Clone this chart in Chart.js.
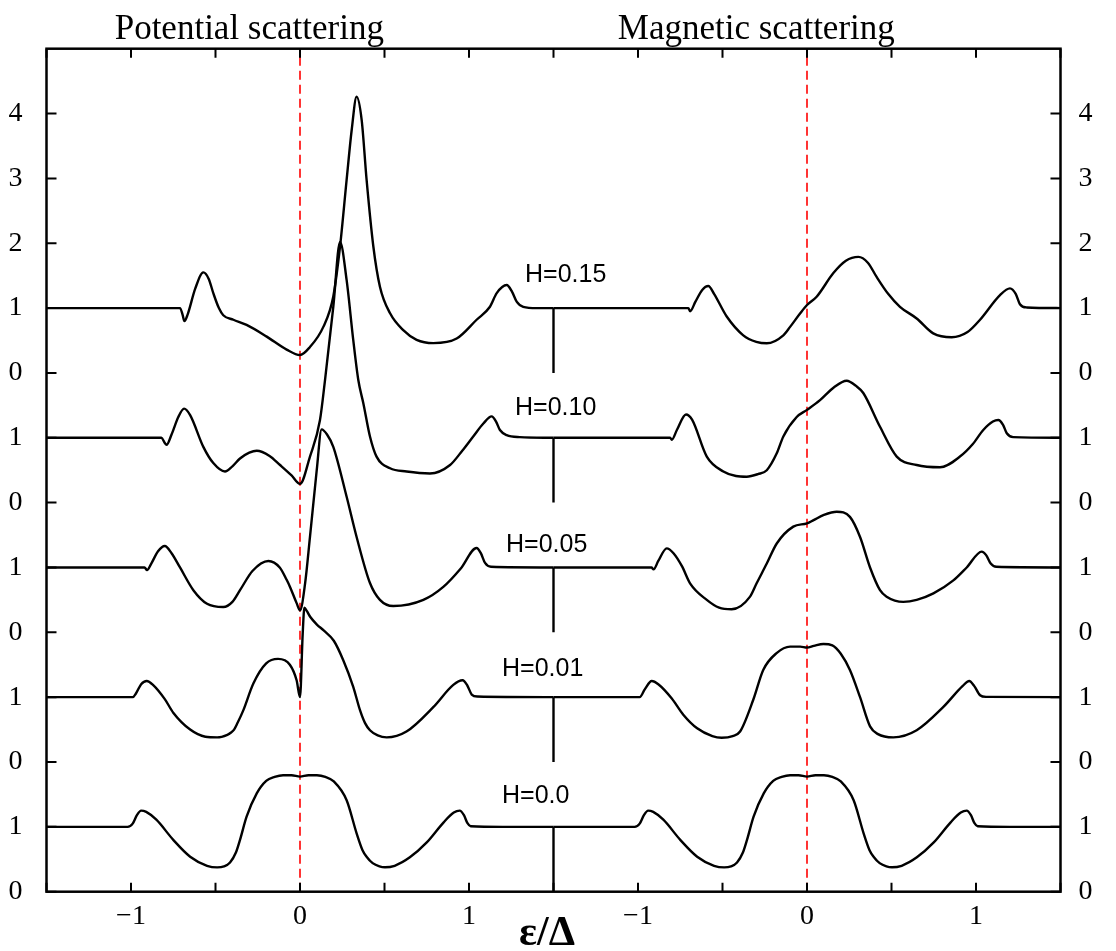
<!DOCTYPE html>
<html>
<head>
<meta charset="utf-8">
<script src="https://cdn.jsdelivr.net/npm/chart.js@4.4.1/dist/chart.umd.min.js"></script>
<style>
  html, body { margin: 0; padding: 0; background: #fff; }
  #chart { display: block; }
</style>
</head>
<body>
<canvas id="chart" width="1116" height="951"></canvas>
<script>
// curve labels and vertical offsets (each curve is shifted up by 2)
const fieldLabels = ['H=0.0', 'H=0.01', 'H=0.05', 'H=0.10', 'H=0.15'];
const offsets = [0, 2, 4, 6, 8];

// tick labels: left panel eps -1..1, right panel is shifted by 3
const xTickValues = [-1, 0, 1, 2, 3, 4];
const xTickLabels = ['\u22121', '0', '1', '\u22121', '0', '1'];
const yTickValues = [0, 1, 2, 3, 4, 5, 6, 7, 8, 9, 10, 11, 12];
const yTickLabels = ['0', '1', '0', '1', '0', '1', '0', '1', '0', '1', '2', '3', '4'];

// potential scattering, [eps, DOS]
const pot000 = [[-1.5,1.0],[-1.2,1.0],[-1.02,1.0],[-0.99,1.05],[-0.965,1.18],[-0.94,1.25],[-0.91,1.23],[-0.85,1.11],
  [-0.75,0.80],[-0.65,0.54],[-0.55,0.40],[-0.49,0.375],[-0.45,0.39],[-0.414,0.45],[-0.38,0.6],[-0.355,0.80],
  [-0.316,1.157],[-0.256,1.517],[-0.2,1.71],[-0.15,1.77],[-0.1,1.795],[-0.05,1.795],[0,1.775],[0.05,1.795],
  [0.1,1.795],[0.15,1.77],[0.2,1.70],[0.276,1.41],[0.335,0.9],[0.37,0.64],[0.394,0.54],[0.43,0.44],[0.47,0.39],
  [0.503,0.376],[0.56,0.40],[0.65,0.53],[0.75,0.76],[0.85,1.07],[0.91,1.22],[0.945,1.25],[0.97,1.18],[0.99,1.06],
  [1.01,1.01],[1.2,1.0],[1.5,1.0]];
const pot001 = [[-1.5,1.0],[-1.2,1.0],[-0.99,1.0],[-0.97,1.06],[-0.94,1.2],[-0.907,1.25],[-0.87,1.19],[-0.8,0.97],
  [-0.75,0.76],[-0.65,0.5],[-0.56,0.39],[-0.49,0.38],[-0.43,0.42],[-0.41,0.45],[-0.39,0.5],[-0.37,0.6],[-0.335,0.8],
  [-0.276,1.21],[-0.2,1.52],[-0.13,1.59],[-0.06,1.5],[-0.02,1.26],[0,1.0],[0.016,1.98],[0.026,2.38],[0.04,2.33],
  [0.06,2.24],[0.1,2.12],[0.14,2.03],[0.2,1.87],[0.256,1.57],[0.315,1.16],[0.355,0.8],[0.385,0.6],[0.414,0.49],
  [0.46,0.41],[0.513,0.38],[0.63,0.47],[0.79,0.85],[0.907,1.19],[0.962,1.26],[0.99,1.18],[1.016,1.04],[1.05,1.01],
  [1.5,1.0]];
const pot005 = [[-1.5,1.0],[-1.2,1.0],[-0.92,1.0],[-0.905,0.96],[-0.88,1.06],[-0.84,1.25],[-0.8,1.33],[-0.76,1.22],
  [-0.71,1.0],[-0.631,0.65],[-0.55,0.44],[-0.454,0.39],[-0.4,0.47],[-0.355,0.65],[-0.28,0.95],[-0.187,1.1],
  [-0.12,1.0],[-0.079,0.81],[-0.059,0.7],[-0.02,0.45],[0,0.34],[0.03,0.75],[0.059,1.47],[0.099,2.5],[0.128,3.13],
  [0.16,3.05],[0.197,2.86],[0.276,2.09],[0.335,1.47],[0.414,0.76],[0.473,0.5],[0.552,0.405],[0.73,0.5],[0.848,0.7],
  [0.95,0.98],[1.045,1.3],[1.07,1.22],[1.095,1.07],[1.13,1.01],[1.5,1.0]];
const pot010 = [[-1.5,1.0],[-1.2,1.0],[-0.82,1.0],[-0.8,0.92],[-0.79,0.89],[-0.76,1.05],[-0.72,1.32],[-0.686,1.45],
  [-0.65,1.35],[-0.572,0.86],[-0.513,0.61],[-0.444,0.48],[-0.4,0.56],[-0.355,0.68],[-0.3,0.77],[-0.256,0.8],
  [-0.18,0.72],[-0.118,0.58],[-0.05,0.42],[0,0.29],[0.059,0.71],[0.118,1.27],[0.148,1.89],[0.197,3.02],[0.237,4.02],
  [0.276,3.43],[0.315,2.51],[0.345,1.89],[0.375,1.53],[0.414,1.02],[0.453,0.71],[0.533,0.53],[0.631,0.48],
  [0.769,0.45],[0.888,0.58],[0.96,0.8],[1.025,1.02],[1.085,1.22],[1.134,1.33],[1.16,1.25],[1.183,1.12],
  [1.223,1.04],[1.3,1.01],[1.5,1.0]];
const pot015 = [[-1.5,1.0],[-1.2,1.0],[-0.71,1.0],[-0.695,0.9],[-0.684,0.8],[-0.665,0.9],[-0.62,1.3],[-0.572,1.55],
  [-0.54,1.45],[-0.513,1.23],[-0.48,1.0],[-0.454,0.89],[-0.394,0.82],[-0.316,0.74],[-0.197,0.56],[-0.079,0.36],
  [0,0.276],[0.059,0.40],[0.138,0.71],[0.197,1.18],[0.237,1.95],[0.276,2.98],[0.306,3.75],[0.335,4.26],[0.365,3.9],
  [0.394,2.98],[0.434,1.95],[0.473,1.33],[0.533,0.92],[0.611,0.66],[0.69,0.51],[0.789,0.46],[0.927,0.53],
  [1.045,0.82],[1.124,1.02],[1.164,1.23],[1.223,1.355],[1.255,1.25],[1.282,1.1],[1.321,1.02],[1.4,1.0],[1.5,1.0]];

// magnetic scattering, [eps, DOS]; at H=0 both panels coincide
const mag000 = pot000;
const mag001 = [[-1.5,1.0],[-1.2,1.0],[-0.99,1.0],[-0.96,1.12],[-0.919,1.25],[-0.88,1.2],[-0.8,0.98],[-0.732,0.73],
  [-0.65,0.52],[-0.56,0.4],[-0.505,0.375],[-0.44,0.4],[-0.396,0.47],[-0.318,0.96],[-0.259,1.42],[-0.18,1.68],
  [-0.1,1.78],[-0.04,1.78],[0,1.765],[0.04,1.79],[0.097,1.82],[0.15,1.8],[0.2,1.67],[0.254,1.42],[0.314,1.0],
  [0.373,0.55],[0.42,0.43],[0.511,0.38],[0.649,0.49],[0.807,0.85],[0.92,1.17],[0.96,1.25],[0.99,1.17],
  [1.024,1.03],[1.06,1.005],[1.5,1.0]];
const mag005 = [[-1.5,1.0],[-1.2,1.0],[-0.92,1.0],[-0.908,0.97],[-0.88,1.1],[-0.83,1.295],[-0.79,1.22],[-0.74,1.02],
  [-0.692,0.756],[-0.593,0.5],[-0.52,0.38],[-0.446,0.355],[-0.337,0.55],[-0.298,0.756],[-0.238,1.06],[-0.179,1.37],
  [-0.081,1.63],[0,1.68],[0.039,1.73],[0.1,1.81],[0.176,1.86],[0.254,1.78],[0.314,1.47],[0.373,1.0],[0.432,0.65],
  [0.471,0.55],[0.57,0.47],[0.649,0.5],[0.748,0.6],[0.866,0.8],[0.945,1.0],[1.034,1.245],[1.06,1.19],[1.087,1.06],
  [1.12,1.01],[1.5,1.0]];
const mag010 = [[-1.5,1.0],[-1.2,1.0],[-0.81,1.0],[-0.8,0.97],[-0.77,1.12],[-0.716,1.36],[-0.68,1.28],[-0.593,0.71],
  [-0.495,0.48],[-0.42,0.41],[-0.357,0.40],[-0.29,0.44],[-0.238,0.5],[-0.179,0.76],[-0.14,1.02],[-0.061,1.32],
  [0,1.43],[0.077,1.58],[0.16,1.78],[0.235,1.88],[0.29,1.8],[0.333,1.69],[0.432,1.17],[0.531,0.71],[0.649,0.58],
  [0.787,0.545],[0.905,0.71],[0.98,0.9],[1.043,1.12],[1.1,1.25],[1.132,1.275],[1.16,1.2],[1.182,1.07],[1.22,1.01],
  [1.5,1.0]];
const mag015 = [[-1.5,1.0],[-1.2,1.0],[-0.702,1.0],[-0.692,0.95],[-0.66,1.1],[-0.62,1.28],[-0.584,1.34],[-0.55,1.22],
  [-0.475,0.87],[-0.377,0.58],[-0.3,0.48],[-0.238,0.457],[-0.14,0.58],[-0.1,0.71],[-0.04,0.92],[0,1.047],
  [0.057,1.175],[0.156,1.54],[0.23,1.73],[0.304,1.79],[0.36,1.7],[0.412,1.48],[0.48,1.22],[0.55,1.02],[0.649,0.84],
  [0.747,0.61],[0.856,0.55],[0.95,0.63],[1.024,0.82],[1.142,1.2],[1.201,1.304],[1.235,1.22],[1.26,1.06],[1.3,1.01],
  [1.5,1.0]];

const potCurves = [pot000, pot001, pot005, pot010, pot015];
const magCurves = [mag000, mag001, mag005, mag010, mag015];
const panelShift = 3;
const yMax = 13;

const serif = '"Liberation Serif", "Times New Roman", serif';
const sans = '"Liberation Sans", Arial, sans-serif';

function curve(points) {
    return {
        data: points,
        showLine: true,
        borderColor: '#000',
        borderWidth: 2.4,
        pointRadius: 0,
        fill: false,
        cubicInterpolationMode: 'monotone',
    };
}

const datasets = [];
potCurves.forEach((c, i) => {
    datasets.push(curve(c.map(p => ({ x: p[0], y: p[1] + offsets[i] }))));
});
magCurves.forEach((c, i) => {
    datasets.push(curve(c.map(p => ({ x: p[0] + panelShift, y: p[1] + offsets[i] }))));
});
// short drops at the panel joint
offsets.forEach(o => {
    datasets.push({
        data: [{ x: 1.5, y: o + 1 }, { x: 1.5, y: o }],
        showLine: true, borderColor: '#000', borderWidth: 2.4, pointRadius: 0, tension: 0,
    });
});
// red dashed eps = 0 lines
[0, panelShift].forEach(x0 => {
    datasets.push({
        data: [{ x: x0, y: 0 }, { x: x0, y: yMax }],
        showLine: true, borderColor: '#ff0000', borderWidth: 1.6, borderDash: [9, 5],
        pointRadius: 0, tension: 0,
    });
});

const decor = {
    id: 'decor',
    afterDraw(chart) {
        const { ctx, chartArea: a, scales } = chart;
        const xs = scales.x, ys = scales.y;
        ctx.save();
        ctx.strokeStyle = '#000';

        // inward ticks
        ctx.lineWidth = 2;
        ctx.beginPath();
        for (let v = -1.5; v <= 4.5001; v += 0.5) {
            const px = xs.getPixelForValue(v);
            ctx.moveTo(px, a.bottom); ctx.lineTo(px, a.bottom - 9);
            ctx.moveTo(px, a.top); ctx.lineTo(px, a.top + 9);
        }
        yTickValues.forEach(v => {
            const py = ys.getPixelForValue(v);
            ctx.moveTo(a.left, py); ctx.lineTo(a.left + 10, py);
            ctx.moveTo(a.right, py); ctx.lineTo(a.right - 10, py);
        });
        ctx.stroke();

        // frame
        ctx.lineWidth = 2.5;
        ctx.strokeRect(a.left, a.top, a.right - a.left, a.bottom - a.top);

        ctx.fillStyle = '#000';
        ctx.textBaseline = 'alphabetic';

        // panel titles
        ctx.font = '35px ' + serif;
        ctx.textAlign = 'center';
        ctx.fillText('Potential scattering', xs.getPixelForValue(-0.3), 39);
        ctx.fillText('Magnetic scattering', xs.getPixelForValue(-0.3 + panelShift), 39);

        // curve labels
        const labelPos = [[502, 803], [502, 676], [506, 552], [515, 415], [525, 282]];
        ctx.font = '25px ' + sans;
        ctx.textAlign = 'left';
        fieldLabels.forEach((t, i) => ctx.fillText(t, labelPos[i][0], labelPos[i][1]));

        // axis title
        ctx.font = 'bold 42px ' + serif;
        ctx.textAlign = 'center';
        ctx.fillText('\u03b5/\u0394', 547, 945);
        ctx.restore();
    }
};

new Chart(document.getElementById('chart'), {
    type: 'scatter',
    data: { datasets: datasets },
    options: {
        responsive: false,
        animation: false,
        devicePixelRatio: 1,
        layout: { padding: { top: 48.7, left: 0, right: 0, bottom: 0 } },
        plugins: { legend: { display: false }, tooltip: { enabled: false } },
        scales: {
            x: {
                type: 'linear', min: -1.5, max: 4.5,
                afterBuildTicks: s => { s.ticks = xTickValues.map(v => ({ value: v })); },
                afterFit: s => { s.height = 59.3; },
                grid: { display: false, drawTicks: false },
                border: { display: false },
                ticks: {
                    autoSkip: false, maxRotation: 0, padding: 8, color: '#000',
                    font: { family: serif, size: 28 },
                    callback: (v, i) => xTickLabels[i],
                },
            },
            y: {
                type: 'linear', position: 'left', min: 0, max: yMax,
                afterBuildTicks: s => { s.ticks = yTickValues.map(v => ({ value: v })); },
                afterFit: s => { s.width = 46.5; },
                grid: { display: false, drawTicks: false },
                border: { display: false },
                ticks: {
                    padding: 24, color: '#000',
                    font: { family: serif, size: 28 },
                    callback: (v, i) => yTickLabels[i],
                },
            },
            y2: {
                type: 'linear', position: 'right', min: 0, max: yMax,
                afterBuildTicks: s => { s.ticks = yTickValues.map(v => ({ value: v })); },
                afterFit: s => { s.width = 55.5; },
                grid: { display: false, drawTicks: false },
                border: { display: false },
                ticks: {
                    padding: 18, color: '#000',
                    font: { family: serif, size: 28 },
                    callback: (v, i) => yTickLabels[i],
                },
            },
        },
    },
    plugins: [decor],
});
</script>
</body>
</html>
